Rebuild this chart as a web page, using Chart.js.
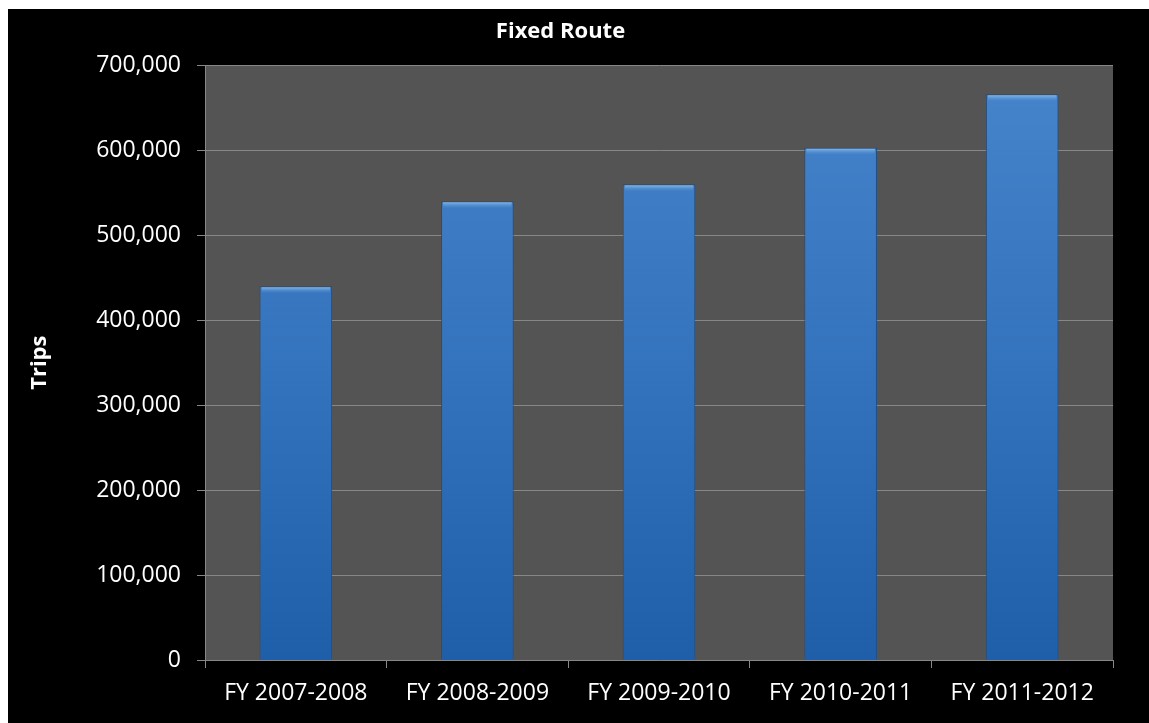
<!DOCTYPE html>
<html>
<head>
<meta charset="utf-8">
<title>Fixed Route</title>
<script src="https://cdn.jsdelivr.net/npm/chart.js@4"></script>
<style>
  html, body { margin: 0; padding: 0; background: #ffffff; }
  #wrap { position: absolute; left: 8px; top: 9px; width: 1141px; height: 714px; background: #000000; }
</style>
</head>
<body>
<div id="wrap"><canvas id="myChart"></canvas></div>
<script>
// fiscal years and trips per year
const years = ['FY 2007-2008', 'FY 2008-2009', 'FY 2009-2010', 'FY 2010-2011', 'FY 2011-2012'];
const trips = [440000, 540000, 560000, 603000, 666000];
const yTicks = [0, 100000, 200000, 300000, 400000, 500000, 600000, 700000];

const fontFamily = '"Open Sans", "Noto Sans", sans-serif';
const gridGray = '#878787';

// grey plot background behind the bars
const plotBg = {
  id: 'plotBg',
  beforeDraw(chart) {
    const { ctx, chartArea: a } = chart;
    ctx.save();
    ctx.fillStyle = '#545454';
    ctx.fillRect(a.left, a.top, a.right - a.left, a.bottom - a.top);
    ctx.restore();
  }
};

// light strip along the top of each bar
const barShine = {
  id: 'barShine',
  afterDatasetsDraw(chart) {
    const { ctx } = chart;
    chart.getDatasetMeta(0).data.forEach(bar => {
      const p = bar.getProps(['x', 'y', 'width'], true);
      const g = ctx.createLinearGradient(0, p.y, 0, p.y + 7);
      g.addColorStop(0, 'rgba(150,200,245,0.95)');
      g.addColorStop(1, 'rgba(90,150,215,0)');
      ctx.save();
      ctx.fillStyle = g;
      ctx.fillRect(p.x - p.width / 2 + 2, p.y + 1, p.width - 4, 7);
      ctx.restore();
    });
  }
};

const ctx = document.getElementById('myChart').getContext('2d');
const myChart = new Chart(ctx, {
  type: 'bar',
  data: {
    labels: years,
    datasets: [{
      label: 'Trips',
      data: trips,
      backgroundColor: (c) => {
        const a = c.chart.chartArea;
        if (!a) return '#3a78c2';
        const g = c.chart.ctx.createLinearGradient(0, a.top, 0, a.bottom);
        g.addColorStop(0, '#4684cb');
        g.addColorStop(0.5, '#3473bd');
        g.addColorStop(1, '#1f5ea8');
        return g;
      },
      borderColor: '#1d4f86',
      borderWidth: 1,
      barPercentage: 0.4,
      categoryPercentage: 1
    }]
  },
  options: {
    responsive: true,
    maintainAspectRatio: false,
    animation: false,
    layout: { padding: { left: 0, right: 36, top: 0, bottom: 0 } },
    plugins: {
      legend: { display: false },
      tooltip: { enabled: false },
      title: {
        display: true,
        text: 'Fixed Route',
        color: '#ffffff',
        font: { family: fontFamily, size: 22, weight: 'bold' },
        padding: { top: 10, bottom: 20 }
      }
    },
    scales: {
      x: {
        offset: true,
        grid: {
          offset: true,
          drawOnChartArea: false,
          drawTicks: true,
          tickLength: 8,
          color: gridGray
        },
        border: { display: true, color: gridGray, width: 1 },
        ticks: {
          color: '#ffffff',
          padding: 12,
          font: { family: fontFamily, size: 23 }
        },
        afterFit(scale) { scale.height = 63; }
      },
      y: {
        min: 0,
        max: 700000,
        afterBuildTicks(scale) { scale.ticks = yTicks.map(v => ({ value: v })); },
        grid: {
          color: gridGray,
          tickLength: 8,
          drawTicks: true
        },
        border: { display: true, color: gridGray, width: 1 },
        ticks: {
          color: '#ffffff',
          padding: 16,
          font: { family: fontFamily, size: 23 },
          callback: (v) => v.toLocaleString('en-US')
        },
        title: {
          display: true,
          text: 'Trips',
          color: '#ffffff',
          font: { family: fontFamily, size: 22, weight: 'bold' },
          padding: { top: 19, bottom: 0 }
        },
        afterFit(scale) { scale.width = 197; }
      }
    }
  },
  plugins: [plotBg, barShine]
});
</script>
</body>
</html>
